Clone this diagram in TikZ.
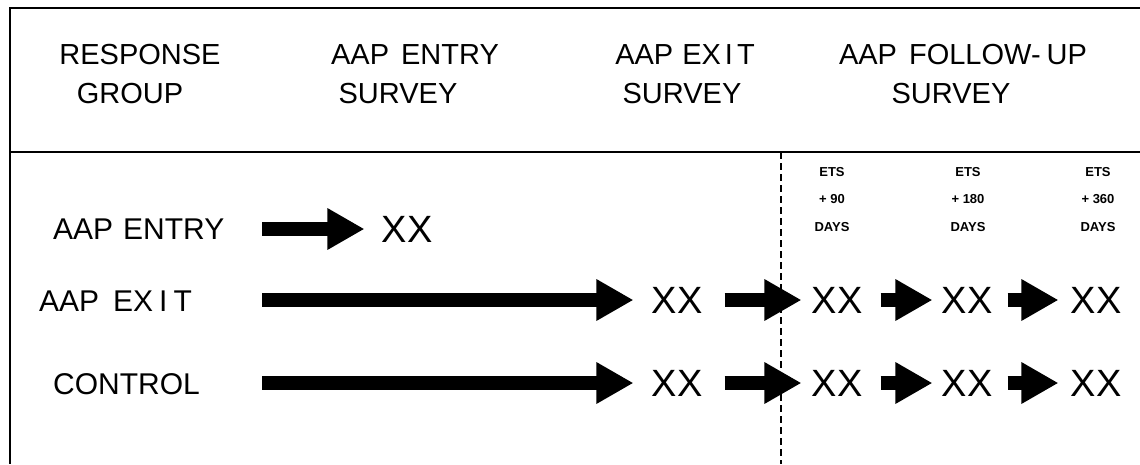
\documentclass[tikz,border=0pt]{standalone}
\usepackage{fontspec}
\setmainfont{Liberation Sans}
\usetikzlibrary{arrows.meta}

\tikzset{
  hdr/.style={inner sep=0pt, font=\fontsize{29}{31}\selectfont},
  rowlbl/.style={inner sep=0pt, anchor=west, font=\fontsize{30}{32}\selectfont},
  mark xx/.style={inner sep=0pt, font=\fontsize{38}{40}\selectfont},
  tiny/.style={inner sep=0pt, font=\fontsize{13}{15}\selectfont\bfseries},
  frame/.style={line width=2.4pt},
  sep line/.style={line width=1.8pt, dash pattern=on 7pt off 4pt},
  fat arrow/.style={line width=14pt, -{Triangle[length=37pt,width=39pt]}},
}

\begin{document}
\begin{tikzpicture}[x=1pt, y=-1pt]
  \useasboundingbox (0,0) rectangle (1140,464);

  % outer frame (open on the right and bottom) and header divider
  \draw[frame] (1140,8) -- (10,8) -- (10,464);
  \draw[frame] (10,152) -- (1140,152);

  % column headings
  \node[hdr] (hRG1) at (140,55) {RESPONSE};
  \node[hdr] (hRG2) at (130,94) {GROUP};
  \node[hdr] (hEN1) at (415,55) {AAP\hspace{12pt}ENTRY};
  \node[hdr] (hEN2) at (398,94) {SURVEY};
  \node[hdr] (hEX1) at (685,55) {AAP\hspace{9pt}EX\hspace{4pt}I\hspace{4pt}T};
  \node[hdr] (hEX2) at (682,94) {SURVEY};
  \node[hdr] (hFU1) at (963,55) {AAP\hspace{12pt}FOLLOW-\hspace{6pt}UP};
  \node[hdr] (hFU2) at (951,94) {SURVEY};

  % follow-up sub-columns
  \foreach \cx/\dd [count=\i] in {832/90, 968/180, 1098/360} {
    \node[tiny] (ets\i) at (\cx,172) {ETS};
    \node[tiny] (pls\i) at (\cx,199) {+ \dd};
    \node[tiny] (day\i) at (\cx,227) {DAYS};
  }

  % boundary between exit survey and follow-up survey
  \coordinate (dTop) at (781,152);
  \coordinate (dBot) at (781,464);
  \draw[sep line] (dTop) -- (dBot);

  % response groups
  \node[rowlbl] (gEntry) at (53,229) {AAP\hspace{10pt}ENTRY};
  \node[rowlbl] (gExit)  at (39,301) {AAP\hspace{14pt}EX\hspace{6pt}I\hspace{6pt}T};
  \node[rowlbl] (gCtrl)  at (53,384) {CONTROL};

  % arrow start points
  \coordinate (sEntry) at (262,229);
  \coordinate (sExit)  at (262,300);
  \coordinate (sCtrl)  at (262,383);

  % AAP entry row
  \node[mark xx] (e0) at (407,229) {XX};
  \draw[fat arrow, shorten >=17pt] (sEntry) -- (e0.west);

  % AAP exit and control rows
  \foreach \r/\yy/\s in {a/300/sExit, c/383/sCtrl} {
    \node[mark xx] (\r1) at (677,\yy) {XX};
    \node[mark xx] (\r2) at (837,\yy) {XX};
    \node[mark xx] (\r3) at (967,\yy) {XX};
    \node[mark xx] (\r4) at (1096,\yy) {XX};
    \draw[fat arrow, shorten >=18pt] (\s) -- (\r1.west);
    \draw[fat arrow, shorten <=22pt, shorten >=10pt] (\r1.east) -- (\r2.west);
    \draw[fat arrow, shorten <=18pt, shorten >=9pt] (\r2.east) -- (\r3.west);
    \draw[fat arrow, shorten <=15pt, shorten >=12pt] (\r3.east) -- (\r4.west);
  }
\end{tikzpicture}
\end{document}
